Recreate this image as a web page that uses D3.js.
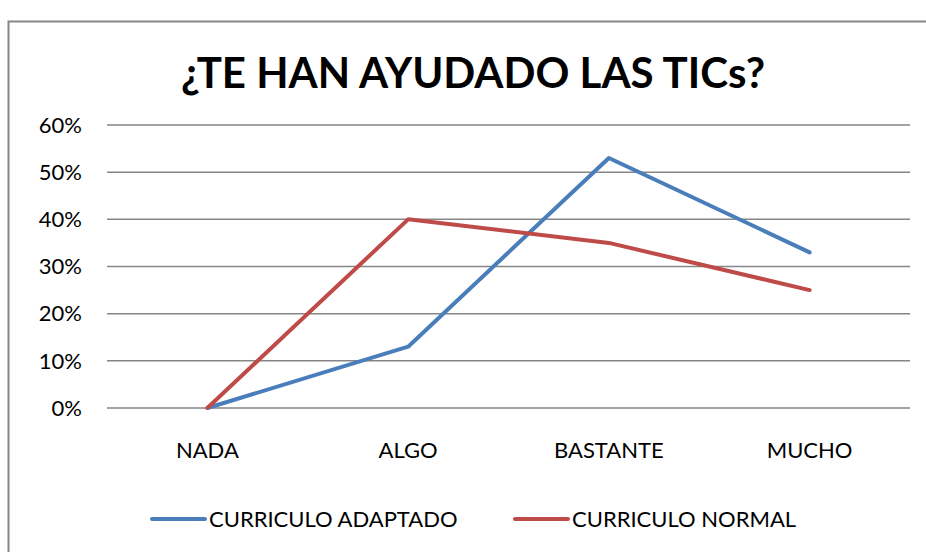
<!DOCTYPE html>
<html>
<head>
<meta charset="utf-8">
<script src="https://cdn.jsdelivr.net/npm/d3@7/dist/d3.min.js"></script>
<style>
  html, body { margin: 0; padding: 0; background: #fff; }
  svg { display: block; font-family: Lato, "Open Sans", sans-serif; }
</style>
</head>
<body>
<div id="chart"></div>
<script>
const categories = ['NADA', 'ALGO', 'BASTANTE', 'MUCHO'];
const adaptado = [0.00, 0.13, 0.53, 0.33];
const normal = [0.00, 0.40, 0.35, 0.25];
const yTicks = [0, 0.1, 0.2, 0.3, 0.4, 0.5, 0.6];
const seriesNames = ['CURRICULO ADAPTADO', 'CURRICULO NORMAL'];
const seriesColors = ['#4a7ebb', '#be4b48'];

const width = 926, height = 552;
const margin = { top: 125, right: 16, bottom: 144, left: 107 };

const svg = d3.select('#chart').append('svg')
  .attr('width', width)
  .attr('height', height);

// chart frame
svg.append('rect')
  .attr('x', 8.5).attr('y', 21.5)
  .attr('width', width).attr('height', height)
  .attr('fill', '#fff')
  .attr('stroke', '#868686')
  .attr('stroke-width', 2);

svg.append('text')
  .attr('x', 473).attr('y', 88)
  .attr('text-anchor', 'middle')
  .attr('font-size', 42)
  .attr('font-weight', 'bold')
  .attr('fill', '#000')
  .text('¿TE HAN AYUDADO LAS TICs?');

const x = d3.scaleBand()
  .domain(categories)
  .range([margin.left, width - margin.right]);

const y = d3.scaleLinear()
  .domain([0, 0.6])
  .range([height - margin.bottom, margin.top]);

// gridlines
svg.append('g')
  .selectAll('line')
  .data(yTicks)
  .join('line')
  .attr('x1', margin.left)
  .attr('x2', width - margin.right)
  .attr('y1', d => y(d))
  .attr('y2', d => y(d))
  .attr('stroke', '#868686')
  .attr('stroke-width', 1.5);

// y labels
svg.append('g')
  .selectAll('text')
  .data(yTicks)
  .join('text')
  .attr('x', 82)
  .attr('y', d => y(d))
  .attr('dy', '0.35em')
  .attr('text-anchor', 'end')
  .attr('font-size', 22)
  .text(d3.format('.0%'));

// x labels
svg.append('g')
  .selectAll('text')
  .data(categories)
  .join('text')
  .attr('x', d => x(d) + x.bandwidth() / 2)
  .attr('y', 458)
  .attr('text-anchor', 'middle')
  .attr('font-size', 22)
  .text(d => d);

const line = d3.line()
  .x((d, i) => x(categories[i]) + x.bandwidth() / 2)
  .y(d => y(d));

svg.append('g')
  .selectAll('path')
  .data([adaptado, normal])
  .join('path')
  .attr('d', line)
  .attr('fill', 'none')
  .attr('stroke', (d, i) => seriesColors[i])
  .attr('stroke-width', 4)
  .attr('stroke-linejoin', 'round')
  .attr('stroke-linecap', 'round');

// legend
const legendX = [152, 515];
const legend = svg.append('g')
  .selectAll('g')
  .data(seriesNames)
  .join('g')
  .attr('transform', (d, i) => `translate(${legendX[i]},519)`);

legend.append('line')
  .attr('x1', 0).attr('x2', 53)
  .attr('stroke', (d, i) => seriesColors[i])
  .attr('stroke-width', 4)
  .attr('stroke-linecap', 'round');

legend.append('text')
  .attr('x', 57)
  .attr('dy', '0.35em')
  .attr('font-size', 22)
  .text(d => d);
</script>
</body>
</html>
